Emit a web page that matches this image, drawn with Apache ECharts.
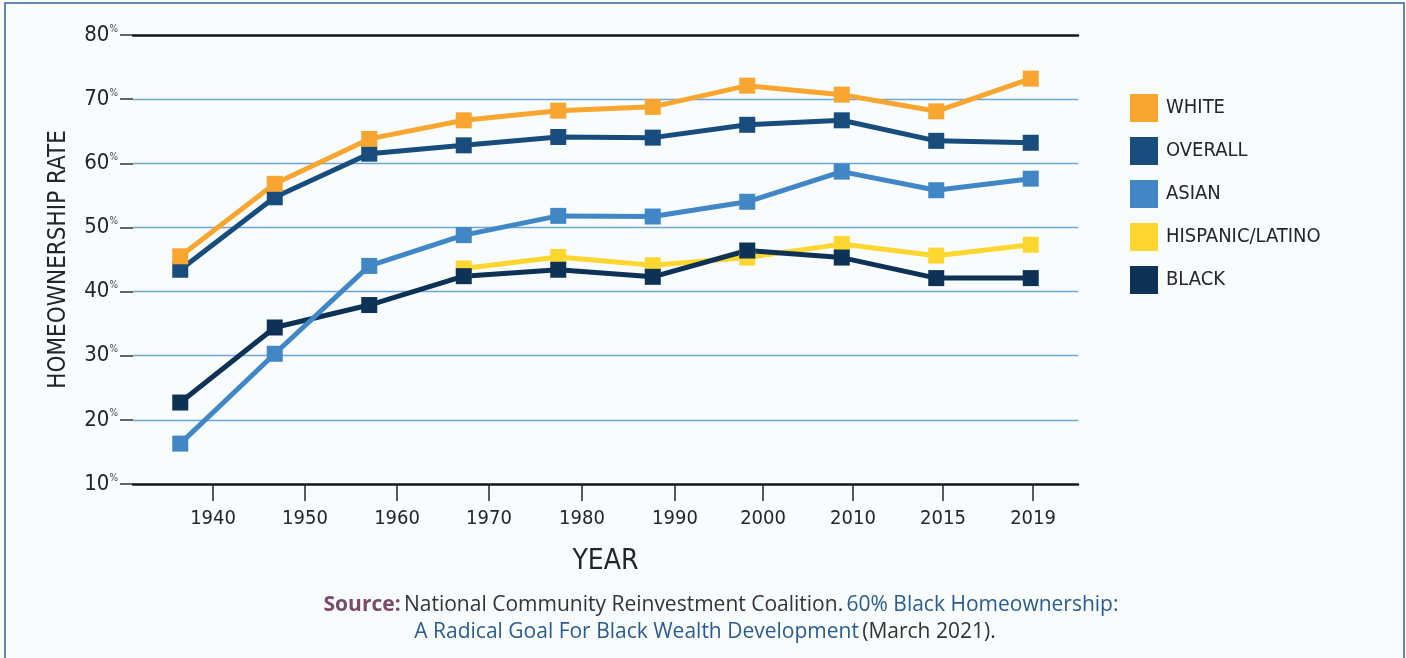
<!DOCTYPE html>
<html>
<head>
<meta charset="utf-8">
<title>Homeownership Rate by Race</title>
<script src="https://cdn.jsdelivr.net/npm/echarts@6/dist/echarts.min.js"></script>
<style>
  html, body { margin: 0; padding: 0; background: #f8fcfd; }
  #chart { width: 1406px; height: 658px; }
</style>
</head>
<body>
<div id="chart"></div>
<script>
// Survey years (x categories)
const years = ['1940', '1950', '1960', '1970', '1980', '1990', '2000', '2010', '2015', '2019'];

// Homeownership rate, percent
const white    = [45.5, 56.8, 63.8, 66.7, 68.2, 68.8, 72.1, 70.7, 68.1, 73.2];
const overall  = [43.4, 54.7, 61.5, 62.8, 64.1, 64.0, 66.0, 66.7, 63.5, 63.2];
const asian    = [16.3, 30.3, 44.0, 48.8, 51.8, 51.7, 54.0, 58.7, 55.8, 57.6];
const hispanic = [null, null, null, 43.6, 45.4, 44.1, 45.3, 47.4, 45.6, 47.3];
const black    = [22.7, 34.4, 37.9, 42.4, 43.4, 42.3, 46.4, 45.3, 42.1, 42.1];

// Legend order
const legendNames = ['WHITE', 'OVERALL', 'ASIAN', 'HISPANIC/LATINO', 'BLACK'];

// Layout: where each year label sits along the axis, in category-band units
const yearLabelSlots = [0.847, 1.820, 2.794, 3.767, 4.751, 5.735, 6.667, 7.619, 8.571, 9.524];

const NARROW = "'Liberation Sans Narrow', 'DejaVu Sans Condensed', 'Roboto', sans-serif";
const SOURCE_FONT = "'Open Sans', 'Noto Sans', sans-serif";
const INK = '#222629';

const colors = {
  WHITE: '#f9a630',
  OVERALL: '#174c7c',
  ASIAN: '#4187c6',
  'HISPANIC/LATINO': '#fdd730',
  BLACK: '#0e3156'
};

function lineSeries(name, values) {
  return {
    name: name,
    type: 'line',
    data: values,
    xAxisIndex: 0,
    symbol: 'rect',
    symbolSize: 16,
    showSymbol: true,
    connectNulls: false,
    lineStyle: { width: 5, color: colors[name] },
    itemStyle: { color: colors[name] },
    emphasis: { disabled: true },
    animation: false
  };
}

function nearestYear(v) {
  let best = 0;
  for (let i = 1; i < yearLabelSlots.length; i++) {
    if (Math.abs(yearLabelSlots[i] - v) < Math.abs(yearLabelSlots[best] - v)) best = i;
  }
  return years[best];
}

const chart = echarts.init(document.getElementById('chart'), null, { renderer: 'canvas' });

chart.setOption({
  backgroundColor: '#f8fcfd',
  animation: false,
  grid: { left: 133, right: 328, top: 35, bottom: 174, containLabel: false },
  legend: {
    data: legendNames,
    orient: 'vertical',
    left: 1130,
    top: 94,
    padding: 0,
    icon: 'rect',
    itemWidth: 28,
    itemHeight: 28,
    itemGap: 15,
    selectedMode: false,
    textStyle: { fontFamily: NARROW, fontSize: 20, color: INK, padding: [0, 0, 0, 3] }
  },
  xAxis: [
    {
      type: 'category',
      data: years,
      boundaryGap: true,
      axisLine: { show: false },
      axisTick: { show: false },
      axisLabel: { show: false },
      splitLine: { show: false }
    },
    {
      type: 'value',
      position: 'bottom',
      min: 0,
      max: 10,
      axisLine: { show: true, lineStyle: { color: '#111417', width: 2.5 } },
      splitLine: { show: false },
      axisTick: {
        show: true,
        customValues: yearLabelSlots,
        length: 17,
        lineStyle: { color: INK, width: 1.5 }
      },
      axisLabel: {
        customValues: yearLabelSlots,
        formatter: nearestYear,
        margin: 25,
        fontFamily: NARROW,
        fontSize: 20,
        color: INK
      },
      name: 'YEAR',
      nameLocation: 'middle',
      nameGap: 64,
      nameTextStyle: { fontFamily: NARROW, fontSize: 28, color: INK }
    },
    {
      type: 'value',
      position: 'top',
      min: 0,
      max: 10,
      axisLine: { show: true, lineStyle: { color: '#111417', width: 2.5 } },
      axisTick: { show: false },
      axisLabel: { show: false },
      splitLine: { show: false }
    }
  ],
  yAxis: {
    type: 'value',
    min: 10,
    max: 80,
    interval: 10,
    axisLine: { show: false },
    axisTick: { show: true, length: 13, lineStyle: { color: '#333', width: 1.5 } },
    axisLabel: {
      margin: 15,
      formatter: function (v) { return '{n|' + v + '}{p|%}'; },
      rich: {
        n: { fontFamily: NARROW, fontSize: 22, color: INK, lineHeight: 22 },
        p: { fontFamily: NARROW, fontSize: 10, color: '#444', verticalAlign: 'top', lineHeight: 22, padding: [0, 0, 10, 0] }
      }
    },
    splitLine: {
      show: true,
      lineStyle: {
        color: ['rgba(0,0,0,0)', '#6ea5d8', '#6ea5d8', '#6ea5d8', '#6ea5d8', '#6ea5d8', '#6ea5d8', 'rgba(0,0,0,0)'],
        width: 1.3
      }
    },
    name: 'HOMEOWNERSHIP RATE',
    nameLocation: 'middle',
    nameGap: 62,
    nameRotate: 90,
    nameTextStyle: { fontFamily: NARROW, fontSize: 24, color: INK }
  },
  // drawn bottom to top
  series: [
    lineSeries('HISPANIC/LATINO', hispanic),
    lineSeries('BLACK', black),
    lineSeries('ASIAN', asian),
    lineSeries('OVERALL', overall),
    lineSeries('WHITE', white)
  ],
  graphic: [
    {
      type: 'rect',
      silent: true,
      shape: { x: 5, y: 3, width: 1399, height: 700 },
      style: { fill: 'none', stroke: '#31609a', lineWidth: 1.5 }
    },
    {
      type: 'text',
      silent: true,
      x: 721,
      y: 605,
      style: {
        text: '{s|Source:} {g|National Community Reinvestment Coalition.} {b|60% Black Homeownership:}',
        align: 'center',
        verticalAlign: 'middle',
        rich: {
          s: { fontFamily: SOURCE_FONT, fontSize: 21, fontWeight: 'bold', fill: '#7a4a6a' },
          g: { fontFamily: SOURCE_FONT, fontSize: 21, fill: '#333' },
          b: { fontFamily: SOURCE_FONT, fontSize: 21, fill: '#2a5b8f' }
        }
      }
    },
    {
      type: 'text',
      silent: true,
      x: 705,
      y: 632,
      style: {
        text: '{b|A Radical Goal For Black Wealth Development} {g|(March 2021).}',
        align: 'center',
        verticalAlign: 'middle',
        rich: {
          g: { fontFamily: SOURCE_FONT, fontSize: 21, fill: '#333' },
          b: { fontFamily: SOURCE_FONT, fontSize: 21, fill: '#2a5b8f' }
        }
      }
    }
  ]
});
</script>
</body>
</html>
